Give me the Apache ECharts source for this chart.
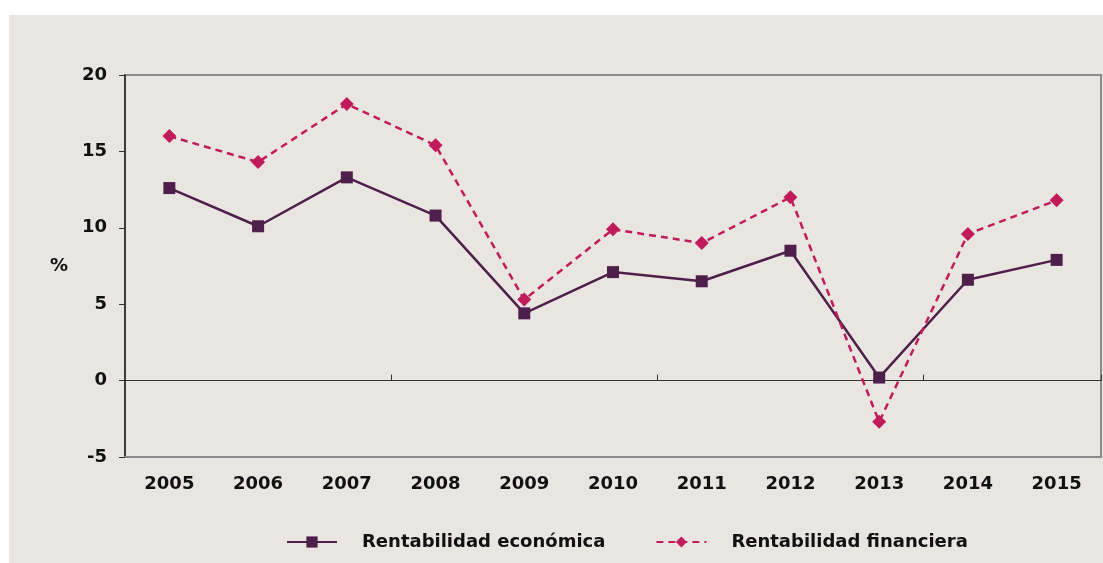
<!DOCTYPE html>
<html>
<head>
<meta charset="utf-8">
<script src="https://cdn.jsdelivr.net/npm/echarts@6/dist/echarts.min.js"></script>
<style>
  html, body { margin: 0; padding: 0; background: #ffffff; }
  #chart { position: absolute; left: 9px; top: 15px; width: 1094px; height: 548px; background: #e9e6e1; }
</style>
</head>
<body>
<div id="chart"></div>
<script>
// datos
var years = ['2005', '2006', '2007', '2008', '2009', '2010', '2011', '2012', '2013', '2014', '2015']
var economica = [12.6, 10.1, 13.3, 10.8, 4.4, 7.1, 6.5, 8.5, 0.2, 6.6, 7.9]
var financiera = [16.0, 14.3, 18.1, 15.4, 5.3, 9.9, 9.0, 12.0, -2.7, 9.6, 11.8]
var yTicks = { min: -5, max: 20, interval: 5 }

var font = 'DejaVu Sans'
var chart = echarts.init(document.getElementById('chart'))
chart.setOption({
  animation: false,
  textStyle: { fontFamily: font },
  grid: {
    left: 116, top: 60, right: 2, bottom: 106,
    show: true, borderColor: '#8a8a8a', borderWidth: 2, backgroundColor: 'transparent'
  },
  legend: {
    bottom: 7,
    left: 272,
    itemWidth: 50,
    itemHeight: 14,
    itemGap: 50,
    textStyle: { fontFamily: font, fontSize: 18, fontWeight: 'bold', color: '#111', padding: [0, 0, 0, 20] },
    data: ['Rentabilidad económica', 'Rentabilidad financiera']
  },
  xAxis: [
    {
      // etiquetas abajo
      type: 'category',
      data: years,
      position: 'bottom',
      axisLine: { onZero: false, lineStyle: { color: '#8a8a8a', width: 2 } },
      axisTick: { show: false },
      axisLabel: { margin: 18, fontSize: 18, fontWeight: 'bold', color: '#111', fontFamily: font }
    },
    {
      // eje en cero
      type: 'category',
      data: years,
      position: 'bottom',
      axisLine: { onZero: true, lineStyle: { color: '#333', width: 1 } },
      axisTick: { show: true, interval: 2, inside: true, length: 6, lineStyle: { color: '#333' } },
      axisLabel: { show: false }
    }
  ],
  yAxis: {
    type: 'value',
    min: yTicks.min,
    max: yTicks.max,
    interval: yTicks.interval,
    name: '%',
    nameLocation: 'middle',
    nameRotate: 0,
    nameGap: 57,
    nameTextStyle: { fontSize: 18, fontWeight: 'bold', color: '#111', fontFamily: font },
    axisLine: { show: true, lineStyle: { color: '#222', width: 1.5 } },
    axisTick: { show: true, length: 6, lineStyle: { color: '#333' } },
    splitLine: { show: false },
    axisLabel: { margin: 18, fontSize: 18, fontWeight: 'bold', color: '#111', fontFamily: font }
  },
  series: [
    {
      name: 'Rentabilidad económica',
      type: 'line',
      data: economica,
      symbol: 'rect',
      symbolSize: 12,
      color: '#4e1f4b',
      lineStyle: { width: 2.5, color: '#4e1f4b' },
      itemStyle: { color: '#4e1f4b' }
    },
    {
      name: 'Rentabilidad financiera',
      type: 'line',
      data: financiera,
      symbol: 'diamond',
      symbolSize: 14,
      color: '#c11b5c',
      lineStyle: { width: 2.5, type: [7, 5], color: '#c11b5c' },
      itemStyle: { color: '#c11b5c' }
    }
  ]
})
</script>
</body>
</html>
